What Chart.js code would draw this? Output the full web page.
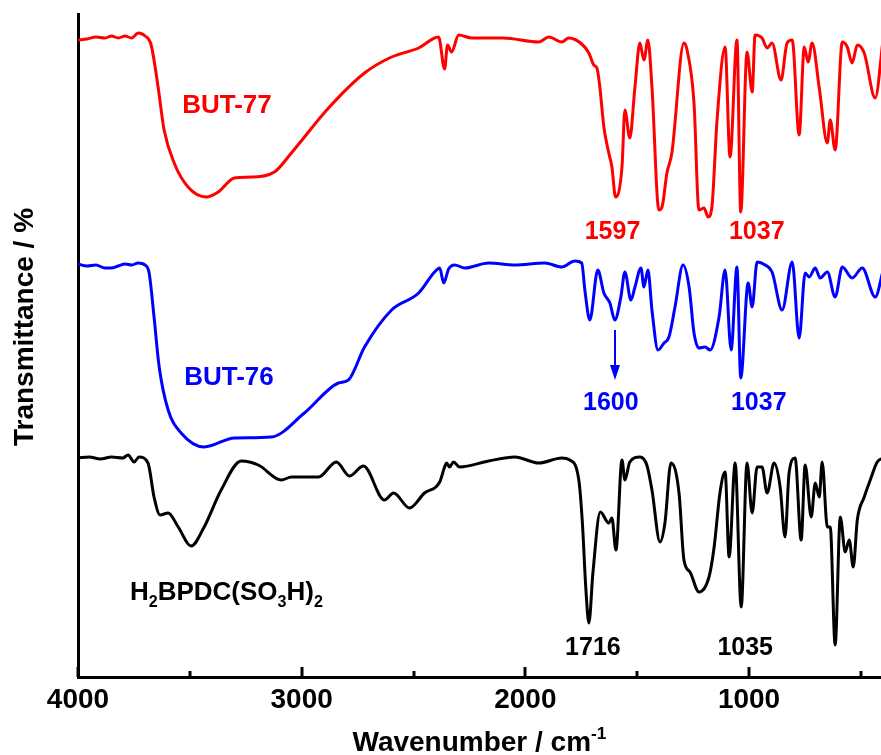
<!DOCTYPE html>
<html lang="en">
<head>
<meta charset="UTF-8">
<title>FTIR spectra - BUT-77, BUT-76, H2BPDC(SO3H)2</title>
<script src="https://cdn.jsdelivr.net/npm/chart.js"></script>
<style>
  html, body { margin: 0; padding: 0; background: #ffffff; }
  #wrap { width: 881px; height: 755px; }
</style>
</head>
<body>
<div id="wrap"><canvas id="ftir" width="881" height="755"></canvas></div>
<script>
// Offset transmittance spectra (arbitrary units, each curve shifted vertically)
const wnBut77 = [4000, 3960, 3920, 3880, 3850, 3820, 3790, 3760, 3731, 3700, 3673, 3642, 3615, 3570, 3508, 3427, 3373, 3301, 3225, 3122,
  3046, 2880, 2719, 2598, 2477, 2388, 2361, 2348, 2330, 2298, 2240, 2100, 1940, 1895, 1837, 1806, 1748, 1716, 1694, 1680,
  1667, 1649, 1627, 1613, 1597, 1568, 1555, 1533, 1510, 1488, 1470, 1452, 1434, 1403, 1389, 1367, 1345, 1291, 1277, 1246,
  1224, 1201, 1183, 1166, 1143, 1107, 1085, 1054, 1037, 1009, 986, 973, 942, 919, 897, 857, 830, 807, 776, 753,
  736, 718, 686, 650, 637, 615, 583, 561, 539, 516, 485, 436, 400];
const tBut77 = [637, 638, 640, 639, 641, 639, 641, 639, 644, 641, 632, 590, 547, 514, 490, 480, 485, 499, 500, 505,
  524, 569, 604, 620, 629, 640, 608, 632, 625, 642, 639, 639, 635, 640, 635, 639, 633, 624, 612, 609,
  590, 550, 524, 510, 480, 510, 567, 539, 590, 634, 617, 637, 590, 467, 470, 504, 524, 634, 627, 574,
  467, 469, 460, 470, 557, 630, 520, 637, 465, 625, 585, 642, 639, 629, 634, 597, 634, 637, 542, 630,
  615, 634, 589, 534, 557, 527, 635, 630, 614, 632, 624, 579, 639];

const wnBut76 = [4000, 3960, 3920, 3880, 3852, 3820, 3790, 3760, 3731, 3700, 3682, 3660, 3637, 3597, 3539, 3436, 3301, 3136, 2988, 2836,
  2791, 2719, 2598, 2477, 2406, 2383, 2365, 2343, 2316, 2271, 2164, 2047, 1913, 1837, 1779, 1748, 1734, 1712, 1676, 1649,
  1622, 1600, 1573, 1555, 1528, 1510, 1483, 1470, 1452, 1434, 1407, 1380, 1358, 1331, 1295, 1268, 1246, 1224, 1197, 1174,
  1134, 1107, 1080, 1054, 1037, 1004, 986, 964, 928, 897, 852, 807, 776, 749, 731, 704, 682, 650, 615, 583,
  539, 494, 436, 400];
const tBut76 = [413, 411, 412, 409, 409, 411, 413, 412, 414, 412, 404, 360, 310, 267, 244, 230, 239, 240, 264, 294,
  297, 330, 367, 384, 405, 409, 394, 408, 412, 409, 414, 412, 414, 410, 416, 414, 387, 357, 407, 384,
  374, 357, 380, 405, 377, 390, 409, 390, 407, 367, 327, 334, 340, 370, 412, 390, 344, 329, 330, 327,
  360, 407, 327, 410, 299, 394, 370, 415, 412, 405, 367, 415, 339, 404, 400, 409, 399, 405, 380, 410,
  399, 409, 380, 407];

const wnLigand = [4000, 3950, 3900, 3850, 3800, 3776, 3749, 3727, 3687, 3660, 3633, 3597, 3552, 3494, 3436, 3360, 3270, 3194, 3091, 3046,
  2925, 2845, 2786, 2724, 2630, 2589, 2518, 2451, 2383, 2361, 2352, 2339, 2321, 2294, 2164, 2047, 1940, 1837, 1801, 1761,
  1745, 1730, 1716, 1698, 1665, 1627, 1613, 1595, 1568, 1555, 1533, 1488, 1457, 1434, 1398, 1376, 1349, 1313, 1291, 1264,
  1224, 1179, 1156, 1130, 1107, 1089, 1062, 1035, 1009, 986, 964, 942, 919, 888, 861, 839, 821, 794, 767, 749,
  722, 704, 686, 673, 650, 637, 615, 592, 570, 552, 534, 516, 485, 458, 427, 400];
const tLigand = [219, 220, 218, 220, 219, 222, 215, 220, 214, 180, 162, 164, 150, 131, 150, 187, 216, 212, 197, 200,
  200, 215, 201, 211, 177, 184, 169, 184, 195, 210, 214, 210, 215, 210, 216, 220, 214, 219, 217, 197,
  154, 90, 54, 104, 165, 154, 159, 127, 217, 197, 215, 220, 212, 187, 135, 154, 214, 184, 117, 105,
  85, 100, 130, 184, 205, 120, 214, 70, 214, 164, 210, 210, 184, 214, 190, 140, 204, 219, 137, 212,
  160, 194, 180, 215, 150, 150, 32, 160, 125, 137, 110, 157, 180, 197, 215, 219];

const xTicks = [4000, 3500, 3000, 2500, 2000, 1500, 1000, 500];

const RED = '#ff0000';
const BLUE = '#0000ff';
const BLACK = '#000000';
const FONT = '"Liberation Sans", Arial, sans-serif';

// sample names, anchored at wavenumber / transmittance
const sampleLabels = [
  { parts: [['BUT-77', '']], wn: 3334, t: 573, color: RED, align: 'center' },
  { parts: [['BUT-76', '']], wn: 3325, t: 301, color: BLUE, align: 'center' },
  { parts: [['H', ''], ['2', 'sub'], ['BPDC(SO', ''], ['3', 'sub'], ['H)', ''], ['2', 'sub']], wn: 3768, t: 86, color: BLACK, align: 'left' }
];

// assigned bands
const peakLabels = [
  { text: '1597', wn: 1597, t: 447, dx: -3, color: RED },
  { text: '1037', wn: 1037, t: 447, dx: 16, color: RED },
  { text: '1600', wn: 1600, t: 276, dx: -4, color: BLUE },
  { text: '1037', wn: 1037, t: 276, dx: 18, color: BLUE },
  { text: '1716', wn: 1716, t: 31, dx: 4, color: BLACK },
  { text: '1035', wn: 1035, t: 31, dx: 4, color: BLACK }
];

const arrow = { wn: 1600, from: 347, to: 297, color: BLUE };

function toPoints(xs, ys) {
  return xs.map((w, i) => ({ x: w, y: ys[i] }));
}

// draws text with sub/superscript pieces, cap height centred on y
function drawRich(ctx, parts, x, y, size, color, align) {
  const small = size * 0.62;
  let total = 0;
  parts.forEach(([s, kind]) => {
    ctx.font = 'bold ' + (kind ? small : size) + 'px ' + FONT;
    total += ctx.measureText(s).width;
  });
  let cx = align === 'center' ? x - total / 2 : x;
  const base = y + size * 0.36;
  ctx.fillStyle = color;
  ctx.textAlign = 'left';
  ctx.textBaseline = 'alphabetic';
  parts.forEach(([s, kind]) => {
    ctx.font = 'bold ' + (kind ? small : size) + 'px ' + FONT;
    let dy = 0;
    if (kind === 'sub') dy = size * 0.26;
    if (kind === 'sup') dy = -size * 0.42;
    ctx.fillText(s, cx, base + dy);
    cx += ctx.measureText(s).width;
  });
}

const overlay = {
  id: 'overlay',
  afterDraw(chart) {
    const { ctx, scales: { x, y } } = chart;
    ctx.save();

    // tick marks pointing into the plot
    ctx.strokeStyle = BLACK;
    ctx.lineWidth = 3;
    xTicks.forEach(v => {
      const px = Math.round(x.getPixelForValue(v));
      const len = v % 1000 === 0 ? 10 : 6;
      ctx.beginPath();
      ctx.moveTo(px, y.bottom);
      ctx.lineTo(px, y.bottom - len);
      ctx.stroke();
    });

    sampleLabels.forEach(l => {
      drawRich(ctx, l.parts, x.getPixelForValue(l.wn), y.getPixelForValue(l.t), 26, l.color, l.align);
    });

    peakLabels.forEach(l => {
      drawRich(ctx, [[l.text, '']], x.getPixelForValue(l.wn) + l.dx, y.getPixelForValue(l.t), 25, l.color, 'center');
    });

    // arrow down from the 1600 band
    const ax = Math.round(x.getPixelForValue(arrow.wn));
    const y0 = y.getPixelForValue(arrow.from);
    const y1 = y.getPixelForValue(arrow.to);
    ctx.strokeStyle = arrow.color;
    ctx.fillStyle = arrow.color;
    ctx.lineWidth = 2;
    ctx.beginPath();
    ctx.moveTo(ax, y0);
    ctx.lineTo(ax, y1 - 10);
    ctx.stroke();
    ctx.beginPath();
    ctx.moveTo(ax - 5, y1 - 15);
    ctx.lineTo(ax + 5, y1 - 15);
    ctx.lineTo(ax, y1);
    ctx.closePath();
    ctx.fill();

    // axis titles
    drawRich(ctx, [['Wavenumber / cm', ''], ['-1', 'sup']], (x.left + x.right) / 2, 741, 28, BLACK, 'center');
    ctx.save();
    ctx.translate(23, 327);
    ctx.rotate(-Math.PI / 2);
    drawRich(ctx, [['Transmittance / %', '']], 0, 0, 28, BLACK, 'center');
    ctx.restore();

    ctx.restore();
  }
};

const lineStyle = {
  pointRadius: 0,
  borderWidth: 3,
  fill: false,
  cubicInterpolationMode: 'monotone'
};

new Chart(document.getElementById('ftir').getContext('2d'), {
  type: 'line',
  data: {
    datasets: [
      Object.assign({ label: 'BUT-77', data: toPoints(wnBut77, tBut77), borderColor: RED }, lineStyle),
      Object.assign({ label: 'BUT-76', data: toPoints(wnBut76, tBut76), borderColor: BLUE }, lineStyle),
      Object.assign({ label: 'H2BPDC(SO3H)2', data: toPoints(wnLigand, tLigand), borderColor: BLACK }, lineStyle)
    ]
  },
  options: {
    responsive: false,
    animation: false,
    events: [],
    layout: { padding: { top: 14, right: 0, left: 0, bottom: 0 } },
    plugins: {
      legend: { display: false },
      tooltip: { enabled: false }
    },
    scales: {
      x: {
        type: 'linear',
        reverse: true,
        min: 410,
        max: 4000,
        afterBuildTicks: scale => { scale.ticks = xTicks.map(v => ({ value: v })); },
        afterFit: scale => { scale.height = 78; },
        grid: { display: false, drawTicks: false },
        border: { display: true, color: BLACK, width: 3 },
        ticks: {
          autoSkip: false,
          maxRotation: 0,
          padding: 9,
          color: BLACK,
          font: { family: FONT, size: 28, weight: 'bold', lineHeight: 1 },
          callback: v => (v % 1000 === 0 ? String(v) : '')
        }
      },
      y: {
        min: 0,
        max: 663,
        afterFit: scale => { scale.width = 78; },
        grid: { display: false, drawTicks: false },
        border: { display: true, color: BLACK, width: 3 },
        ticks: { display: false }
      }
    }
  },
  plugins: [overlay]
});
</script>
</body>
</html>
